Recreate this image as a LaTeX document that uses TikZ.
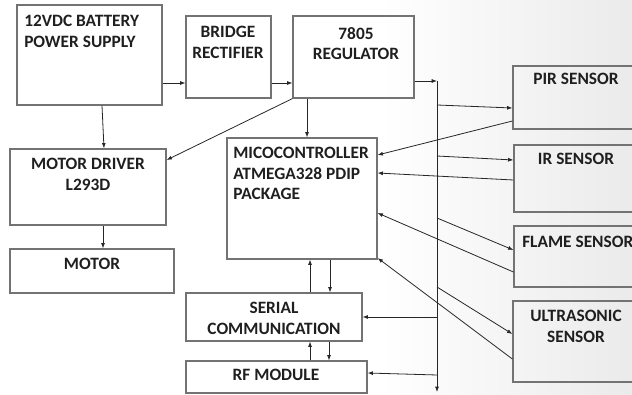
\documentclass[tikz,border=0pt]{standalone}
\usepackage{fontspec}
\setmainfont{Carlito}
\usetikzlibrary{fit,arrows.meta,calc}
\begin{document}
\begin{tikzpicture}[x=0.75pt,y=-0.75pt,
  box/.style={draw=black!55, line width=0.9pt, inner sep=0pt},
  lbl/.style={font=\bfseries\fontsize{13}{15.4}\selectfont, text=black!88, inner sep=0pt, align=center, anchor=north},
  arr/.style={draw=black!85, line width=0.6pt, -{Latex[length=4pt,width=3pt]}}]
\useasboundingbox (0,0) rectangle (632,395);
\shade[left color=white, right color=black!8] (380,0) rectangle (632,395);
% boxes
\node[box, fit={(17,5)(162,105)}] (bat) {};
\node[lbl, anchor=north west, align=left] (batT) at (24,15) {12VDC BATTERY\\POWER SUPPLY};
\node[box, fit={(186,16)(271,98)}] (bri) {};
\node[lbl] (briT) at (228,26) {BRIDGE\\RECTIFIER};
\node[box, fit={(293,16)(414,98)}] (reg) {};
\node[lbl] (regT) at (356,27) {7805\\REGULATOR};
\node[box, fit={(513,66)(640,129)}] (pir) {};
\node[lbl] (pirT) at (576,73) {PIR SENSOR};
\node[box, fit={(10,149)(166,225)}] (drv) {};
\node[lbl] (drvT) at (88,158) {MOTOR DRIVER\\L293D};
\node[box, fit={(227,138)(377,259)}] (mcu) {};
\node[lbl, anchor=north west, align=left] (mcuT) at (233,147) {MICOCONTROLLER\\ATMEGA328 PDIP\\PACKAGE};
\node[box, fit={(514,145)(640,212)}] (ir) {};
\node[lbl] (irT) at (576,153) {IR SENSOR};
\node[box, fit={(514,226)(640,287)}] (fla) {};
\node[lbl, anchor=north west] (flaT) at (522,236) {FLAME SENSOR};
\node[box, fit={(513,301)(640,382)}] (ult) {};
\node[lbl] (ultT) at (576,310) {ULTRASONIC\\SENSOR};
\node[box, fit={(10,249)(174,293)}] (mot) {};
\node[lbl] (motT) at (92,258) {MOTOR};
\node[box, fit={(186,293)(362,341)}] (ser) {};
\node[lbl] (serT) at (274,302) {SERIAL\\COMMUNICATION};
\node[box, fit={(186,361)(367,393)}] (rf) {};
\node[lbl] (rfT) at (276,369) {RF MODULE};
% bus
\coordinate (busT) at (437,81);
\coordinate (busB) at (437,392);
% connectors
\draw[arr] (bat.east |- 0,83) -- (bri.west |- 0,83);
\draw[arr] (bri.east |- 0,83) -- (reg.west |- 0,83);
\draw[arr] (reg.east |- busT) -- (busT);
\draw[arr] (busT) -- (busB);
\draw[arr] (busT |- 0,105) -- (pir.west |- 0,108);
\draw[arr] (pir.west |- 0,121) -- (mcu.east |- 0,155);
\draw[arr] (busT |- 0,156) -- (ir.west |- 0,160);
\draw[arr] (ir.west |- 0,180) -- (mcu.east |- 0,173);
\draw[arr] (busT |- 0,218) -- (fla.west |- 0,250);
\draw[arr] (fla.west |- 0,272) -- (mcu.east |- 0,213);
\draw[arr] (busT |- 0,287) -- (ult.west |- 0,334);
\draw[arr] (ult.west |- 0,359) -- (mcu.east |- 0,258);
\draw[arr] (busT |- 0,317) -- (ser.east |- 0,317);
\draw[arr] (busT |- 0,375) -- (rf.east |- 0,373);
\draw[arr] (ser.north -| 310,0) -- (mcu.south -| 310,0);
\draw[arr] (mcu.south -| 330,0) -- (ser.north -| 330,0);
\draw[arr] (rf.north -| 310,0) -- (ser.south -| 310,0);
\draw[arr] (ser.south -| 329,0) -- (rf.north -| 329,0);
\draw[arr] (bat.south -| 102,0) -- (drv.north -| 104,0);
\draw[arr] (reg.south west) -- (drv.east |- 0,160);
\draw[arr] (reg.south -| 307,0) -- (mcu.north -| 307,0);
\draw[arr] (drv.south -| 103,0) -- (mot.north -| 103,0);
\end{tikzpicture}
\end{document}
